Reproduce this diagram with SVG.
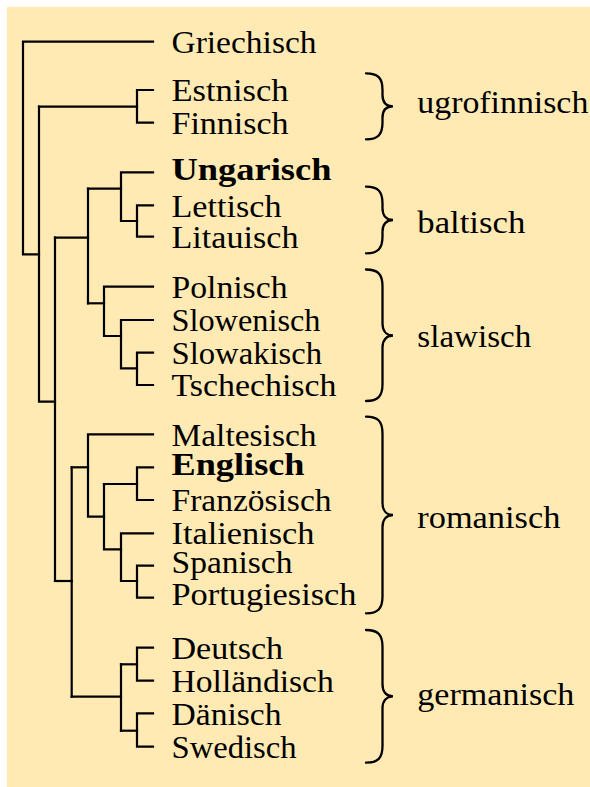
<svg xmlns="http://www.w3.org/2000/svg" width="590" height="787" viewBox="0 0 590 787">
<style>
text{font-family:'Liberation Serif','DejaVu Serif','Noto Serif',Tinos,'Nimbus Roman','FreeSerif','Times New Roman',Times,Georgia,serif;font-size:32px;fill:#000}
.b{font-weight:bold}
.ln{fill:none;stroke:#000;stroke-width:2.2;stroke-linecap:square;stroke-linejoin:miter}
.br{fill:none;stroke:#000;stroke-width:2.3;stroke-linecap:round}
</style>
<rect x="7" y="7" width="583" height="780" fill="#FFEAB4"/>
<g id="connectors" class="ln">
<path d="M153 41.7H23V254.3H39"/>
<path d="M39 106.7V401.7H55"/>
<path d="M39 106.7H137"/>
<path d="M153 90H137V122.7H153"/>
<path d="M55 237.7V581"/>
<path d="M55 237.7H88"/>
<path d="M88 188.7V303.3"/>
<path d="M88 188.7H121"/>
<path d="M153 172.3H121V221H137"/>
<path d="M153 205.3H137V236.7H153"/>
<path d="M88 303.3H104"/>
<path d="M153 286.7H104V336H121"/>
<path d="M153 320H121V368.3H137"/>
<path d="M153 352.7H137V385H153"/>
<path d="M55 581H71.7"/>
<path d="M71.7 467.3V696.7"/>
<path d="M71.7 467.3H88"/>
<path d="M153 434.3H88V516.7H104"/>
<path d="M104 484V549.3H121"/>
<path d="M104 484H137"/>
<path d="M153 467.3H137V500H153"/>
<path d="M153 533.3H121V581H137"/>
<path d="M153 565.7H137V597.7H153"/>
<path d="M71.7 696.7H121"/>
<path d="M121 664.3V730.7"/>
<path d="M121 664.3H137"/>
<path d="M153 647.7H137V680.7H153"/>
<path d="M121 730.7H137"/>
<path d="M153 713.3H137V746.7H153"/>
</g>
<g font-family="Liberation Serif, DejaVu Serif, serif" lengthAdjust="spacingAndGlyphs">
<g id="griechisch"><text x="171.5" y="53.3" textLength="145" lengthAdjust="spacingAndGlyphs">Griechisch</text></g>
<g id="estnisch"><text x="171.5" y="101.3" textLength="117" lengthAdjust="spacingAndGlyphs">Estnisch</text></g>
<g id="finnisch"><text x="171.5" y="134" textLength="117" lengthAdjust="spacingAndGlyphs">Finnisch</text></g>
<g id="ungarisch"><text class="b" x="171.5" y="179.5" textLength="160" lengthAdjust="spacingAndGlyphs">Ungarisch</text></g>
<g id="lettisch"><text x="171.5" y="216.7" textLength="110" lengthAdjust="spacingAndGlyphs">Lettisch</text></g>
<g id="litauisch"><text x="171.5" y="248" textLength="127" lengthAdjust="spacingAndGlyphs">Litauisch</text></g>
<g id="polnisch"><text x="171.5" y="298" textLength="116" lengthAdjust="spacingAndGlyphs">Polnisch</text></g>
<g id="slowenisch"><text x="171.5" y="331.3" textLength="149" lengthAdjust="spacingAndGlyphs">Slowenisch</text></g>
<g id="slowakisch"><text x="171.5" y="364" textLength="150.6" lengthAdjust="spacingAndGlyphs">Slowakisch</text></g>
<g id="tschechisch"><text x="171.5" y="396.3" textLength="165" lengthAdjust="spacingAndGlyphs">Tschechisch</text></g>
<g id="maltesisch"><text x="171.5" y="446" textLength="145" lengthAdjust="spacingAndGlyphs">Maltesisch</text></g>
<g id="englisch"><text class="b" x="171.5" y="475" textLength="133" lengthAdjust="spacingAndGlyphs">Englisch</text></g>
<g id="franzoesisch"><text x="171.5" y="511" textLength="160" lengthAdjust="spacingAndGlyphs">Französisch</text></g>
<g id="italienisch"><text x="171.5" y="544" textLength="143" lengthAdjust="spacingAndGlyphs">Italienisch</text></g>
<g id="spanisch"><text x="171.5" y="573.3" textLength="121" lengthAdjust="spacingAndGlyphs">Spanisch</text></g>
<g id="portugiesisch"><text x="171.5" y="605" textLength="185" lengthAdjust="spacingAndGlyphs">Portugiesisch</text></g>
<g id="deutsch"><text x="171.5" y="659" textLength="111.6" lengthAdjust="spacingAndGlyphs">Deutsch</text></g>
<g id="hollaendisch"><text x="171.5" y="692" textLength="162.3" lengthAdjust="spacingAndGlyphs">Holländisch</text></g>
<g id="daenisch"><text x="171.5" y="724.6" textLength="110" lengthAdjust="spacingAndGlyphs">Dänisch</text></g>
<g id="swedisch"><text x="171.5" y="758" textLength="125" lengthAdjust="spacingAndGlyphs">Swedisch</text></g>
<g id="ugrofinnisch">
<path class="br" d="M366 73.3C378 73.3 382.5 78 382.5 90V95C382.5 102 386 106.3 393 106.3C386 106.3 382.5 110.6 382.5 117.6V122.6C382.5 134.6 378 139.3 366 139.3"/>
<text x="417.3" y="113.3" textLength="171" lengthAdjust="spacingAndGlyphs">ugrofinnisch</text>
</g>
<g id="baltisch">
<path class="br" d="M366 186.7C378 186.7 382.5 191.4 382.5 203.4V208.3C382.5 215.3 386 220 393 220C386 220 382.5 224.7 382.5 231.7V236.6C382.5 248.6 378 253.3 366 253.3"/>
<text x="417.3" y="233" textLength="108" lengthAdjust="spacingAndGlyphs">baltisch</text>
</g>
<g id="slawisch">
<path class="br" d="M366 269.5C378 269.5 382.5 274.2 382.5 286.2V323.5C382.5 330.5 386 335.5 393 335.5C386 335.5 382.5 340.5 382.5 347.5V384.3C382.5 396.3 378 401 366 401"/>
<text x="417.3" y="347.3" textLength="114" lengthAdjust="spacingAndGlyphs">slawisch</text>
</g>
<g id="romanisch">
<path class="br" d="M366 416.7C378 416.7 382.5 421.4 382.5 433.4V503C382.5 510 386 515 393 515C386 515 382.5 520 382.5 527V596.6C382.5 608.6 378 613.3 366 613.3"/>
<text x="417.3" y="528.3" textLength="143" lengthAdjust="spacingAndGlyphs">romanisch</text>
</g>
<g id="germanisch">
<path class="br" d="M366 630C378 630 382.5 634.7 382.5 646.7V684.3C382.5 691.3 386 696.3 393 696.3C386 696.3 382.5 701.3 382.5 708.3V746C382.5 758 378 762.7 366 762.7"/>
<text x="417.3" y="705" textLength="157" lengthAdjust="spacingAndGlyphs">germanisch</text>
</g>
</g>
</svg>
